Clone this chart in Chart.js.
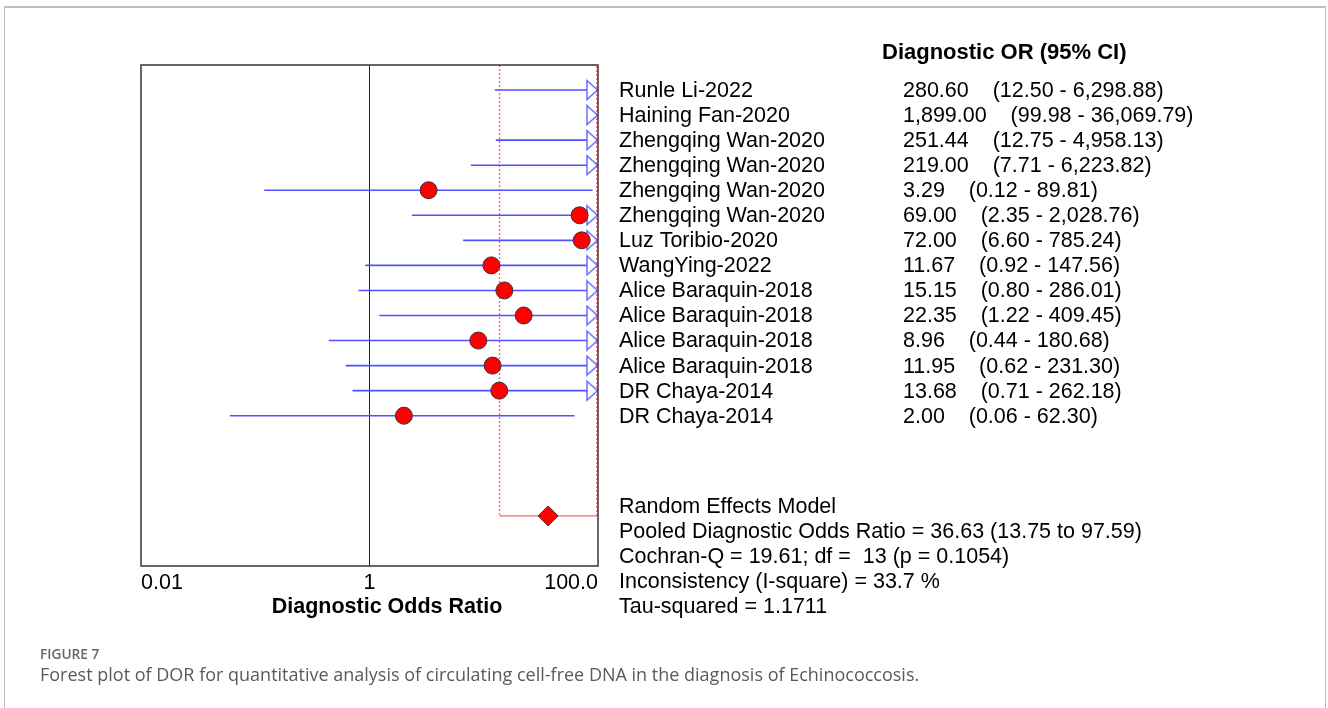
<!DOCTYPE html>
<html>
<head>
<meta charset="utf-8">
<script src="https://cdn.jsdelivr.net/npm/chart.js@4/dist/chart.umd.min.js"></script>
<style>
    body { margin: 0; background: #fff; overflow: hidden; }
    #frame { position: absolute; left: 4px; top: 6px; width: 1322px; height: 740px;
             border: 1px solid #bdbdbd; border-top-width: 2px; box-sizing: border-box; }
    #wrap { position: absolute; left: 0; top: 0; width: 1328px; height: 708px; }
    #figLabel { position: absolute; left: 40px; top: 644px; font: 600 13.7px "Open Sans", sans-serif; color: #666; }
    #caption { position: absolute; left: 40px; top: 662px; font: 18px "Open Sans", sans-serif; color: #5a5a5a; }
</style>
</head>
<body>
<div id="frame"></div>
<div id="wrap"><canvas id="chart"></canvas></div>
<div id="figLabel">FIGURE 7</div>
<div id="caption">Forest plot of DOR for quantitative analysis of circulating cell-free DNA in the diagnosis of Echinococcosis.</div>

<script>
// DATA
let studies = ["Runle Li-2022", "Haining Fan-2020", "Zhengqing Wan-2020", "Zhengqing Wan-2020",
    "Zhengqing Wan-2020", "Zhengqing Wan-2020", "Luz Toribio-2020", "WangYing-2022",
    "Alice Baraquin-2018", "Alice Baraquin-2018", "Alice Baraquin-2018", "Alice Baraquin-2018",
    "DR Chaya-2014", "DR Chaya-2014"];
let dor = [280.60, 1899.00, 251.44, 219.00, 3.29, 69.00, 72.00, 11.67, 15.15, 22.35, 8.96, 11.95, 13.68, 2.00];
let lower = [12.50, 99.98, 12.75, 7.71, 0.12, 2.35, 6.60, 0.92, 0.80, 1.22, 0.44, 0.62, 0.71, 0.06];
let upper = [6298.88, 36069.79, 4958.13, 6223.82, 89.81, 2028.76, 785.24, 147.56, 286.01, 409.45, 180.68, 231.30, 262.18, 62.30];

let pooled = 36.63;
let pooledLower = 13.75;
let pooledUpper = 97.59;
let pooledRow = 17;

let tickValues = [0.01, 1, 100];
let tickLabels = ["0.01", "1", "100.0"];

let header = "Diagnostic OR (95% CI)";
let axisTitle = "Diagnostic Odds Ratio";
let stats = ["Random Effects Model",
    "Pooled Diagnostic Odds Ratio = 36.63 (13.75 to 97.59)",
    "Cochran-Q = 19.61; df =  13 (p = 0.1054)",
    "Inconsistency (I-square) = 33.7 %",
    "Tau-squared = 1.1711"];

const FONT = '"Liberation Sans", Arial, sans-serif';

function fmt(v) {
    return v.toLocaleString("en-US", { minimumFractionDigits: 2, maximumFractionDigits: 2 });
}

// open arrow head, drawn in the left half so the tip sits on the point
function arrowImage() {
    let c = document.createElement("canvas");
    c.width = 24; c.height = 22;
    let g = c.getContext("2d");
    g.beginPath();
    g.moveTo(1, 1.5);
    g.lineTo(11.5, 11);
    g.lineTo(1, 20.5);
    g.closePath();
    g.fillStyle = "#fff";
    g.fill();
    g.strokeStyle = "#6262ff";
    g.lineWidth = 1.4;
    g.stroke();
    return c;
}

// CI segments
let ciData = [];
studies.forEach((s, i) => {
    ciData.push({ x: lower[i], y: i }, { x: upper[i], y: i }, { x: lower[i], y: null });
});

let pointData = dor.map((v, i) => ({ x: v, y: i }));
let arrowData = [];
upper.forEach((u, i) => { if (u > tickValues[2]) arrowData.push({ x: tickValues[2], y: i }); });

let boxSides = [
    { x: pooledLower, y: -1 }, { x: pooledLower, y: pooledRow }, { x: pooledLower, y: null },
    { x: pooledUpper, y: pooledRow }, { x: pooledUpper, y: -1 }
];
let boxBase = [{ x: pooledLower, y: pooledRow }, { x: pooledUpper, y: pooledRow }];

const textPlugin = {
    id: "forestText",
    afterDraw(c) {
        let ctx = c.ctx;
        let y = c.scales.y;
        let a = c.chartArea;
        ctx.save();

        // plot frame
        ctx.strokeStyle = "#424242";
        ctx.lineWidth = 1.6;
        ctx.strokeRect(a.left, a.top, a.right - a.left, a.bottom - a.top);

        ctx.fillStyle = "#000";
        ctx.textBaseline = "middle";
        ctx.textAlign = "left";

        ctx.font = "bold 22px " + FONT;
        ctx.fillText(header, 882, y.getPixelForValue(-1.5));

        ctx.font = "21.5px " + FONT;
        let gap = ctx.measureText("    ").width;
        studies.forEach((s, i) => {
            let py = y.getPixelForValue(i) + 1;
            ctx.fillText(s, 619, py);
            let val = fmt(dor[i]);
            ctx.fillText(val, 903, py);
            let ciX = 903 + ctx.measureText(val).width + gap;
            ctx.fillText("(" + fmt(lower[i]) + " - " + fmt(upper[i]) + ")", ciX, py);
        });

        stats.forEach((s, k) => {
            ctx.fillText(s, 619, y.getPixelForValue(pooledRow - 0.35 + k));
        });

        ctx.font = "bold 21.5px " + FONT;
        ctx.textAlign = "center";
        ctx.fillText(axisTitle, 387, 607);
        ctx.restore();
    }
};

let chart = new Chart(document.getElementById("chart"), {
    type: "scatter",
    data: {
        datasets: [
            {
                type: "scatter",
                data: [{ x: pooled, y: pooledRow }],
                pointStyle: "rectRot",
                pointRadius: 10,
                backgroundColor: "#ff0000",
                borderColor: "#333",
                borderWidth: 1,
                order: 0
            },
            {
                type: "scatter",
                data: pointData,
                pointRadius: 8.5,
                backgroundColor: "#ff0000",
                borderColor: "#333",
                borderWidth: 1,
                order: 1
            },
            {
                type: "scatter",
                data: arrowData,
                pointStyle: arrowImage(),
                order: 2
            },
            {
                type: "line",
                data: ciData,
                borderColor: "#5050ff",
                borderWidth: 1.6,
                pointRadius: 0,
                spanGaps: false,
                order: 3
            },
            {
                type: "line",
                data: boxBase,
                borderColor: "#ff6060",
                borderWidth: 1.4,
                pointRadius: 0,
                order: 4
            },
            {
                type: "line",
                data: boxSides,
                borderColor: "#ff6a6a",
                borderWidth: 1.4,
                borderDash: [2, 2],
                pointRadius: 0,
                spanGaps: false,
                order: 5
            }
        ]
    },
    options: {
        responsive: true,
        maintainAspectRatio: false,
        animation: false,
        layout: { padding: { left: 141, right: 730, top: 65, bottom: 84 } },
        plugins: { legend: { display: false }, tooltip: { enabled: false } },
        scales: {
            x: {
                type: "logarithmic",
                min: tickValues[0],
                max: tickValues[2],
                afterBuildTicks: s => { s.ticks = tickValues.map(v => ({ value: v })); },
                afterFit: s => { s.height = 58; },
                border: { display: false },
                grid: {
                    drawTicks: false,
                    color: ctx => ctx.tick && ctx.tick.value === 1 ? "#222" : "rgba(0,0,0,0)",
                    lineWidth: 1
                },
                ticks: {
                    align: "inner",
                    maxRotation: 0,
                    padding: 4,
                    color: "#000",
                    font: { family: FONT, size: 21.5 },
                    callback: v => {
                        let k = tickValues.indexOf(v);
                        return k >= 0 ? tickLabels[k] : "";
                    }
                }
            },
            y: {
                type: "linear",
                min: -1,
                max: 19,
                reverse: true,
                display: false
            }
        }
    },
    plugins: [textPlugin]
});
</script>
</body>
</html>
